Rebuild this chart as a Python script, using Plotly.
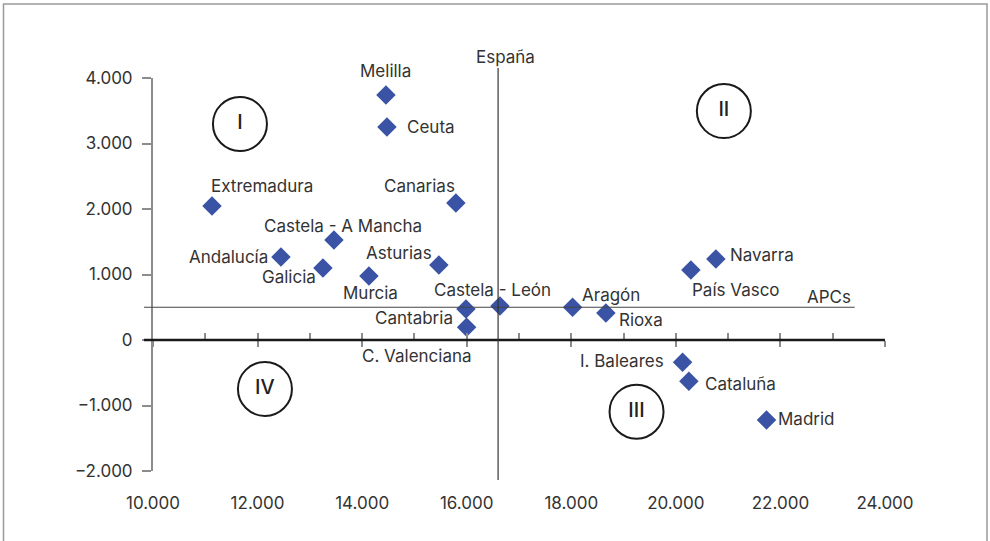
import plotly.graph_objects as go

# ---- data ----
regions = ["Melilla", "Ceuta", "Extremadura", "Canarias", "Castela - A Mancha",
           "Andalucía", "Galicia", "Murcia", "Asturias", "Castela - León",
           "Cantabria", "C. Valenciana", "Aragón", "Rioxa", "País Vasco",
           "Navarra", "I. Baleares", "Cataluña", "Madrid"]
x_vals = [14455, 14474, 11128, 15793, 13461,
          12447, 13250, 14130, 15468, 16635,
          15985, 15998, 18025, 18662, 20287,
          20765, 20128, 20249, 21734]
y_vals = [3740, 3252, 2046, 2092, 1527,
          1267, 1099, 977, 1145, 519,
          473, 194, 499, 412, 1069,
          1237, -340, -631, -1221]

espana_x = 16600
apcs_y = 500
apcs_x_end = 23420

quadrants = ["I", "II", "III", "IV"]
quad_x = [11663, 20918, 19248, 12141]
quad_y = [3298, 3496, -1095, -748]

x_ticks = [10000, 12000, 14000, 16000, 18000, 20000, 22000, 24000]
x_range = [10000, 24000]
y_range = [-2000, 4000]

# label placement: (xanchor, xshift px, yshift px)
label_pos = {
    "Melilla": ("center", 0, 24),
    "Ceuta": ("left", 18, 0),
    "Extremadura": ("left", -3, 20),
    "Canarias": ("right", 1, 17),
    "Castela - A Mancha": ("center", 9, 14),
    "Andalucía": ("right", -11, 0),
    "Galicia": ("right", -5, -9),
    "Murcia": ("center", 2, -17),
    "Asturias": ("right", -5, 12),
    "Castela - León": ("center", -7, 16),
    "Cantabria": ("right", -11, -9),
    "C. Valenciana": ("right", 7, -29),
    "Aragón": ("left", 7, 12),
    "Rioxa": ("left", 11, -7),
    "País Vasco": ("left", -1, -20),
    "Navarra": ("left", 12, 4),
    "I. Baleares": ("right", -17, 1),
    "Cataluña": ("left", 14, -3),
    "Madrid": ("left", 9, 1),
}

FONT = "Inter"
FS = 17
TXT = "#333333"
GRAY = "#8c8c8c"
W, H = 990, 541
ML, MR, MT, MB = 153, 105, 78, 70
PW = W - ML - MR
PH = H - MT - MB

fig = go.Figure()

# quadrant circles
fig.add_trace(go.Scatter(
    x=quad_x, y=quad_y, mode="markers+text", text=quadrants,
    textposition="middle center",
    textfont=dict(family=FONT, size=20, color="#222222", weight=500),
    marker=dict(symbol="circle-open", size=54, color="#1a1a1a",
                line=dict(width=2, color="#1a1a1a")),
    hoverinfo="skip", showlegend=False, cliponaxis=False))

# region points
fig.add_trace(go.Scatter(
    x=x_vals, y=y_vals, mode="markers", text=regions,
    marker=dict(symbol="diamond", size=15, color="#3a53a4"),
    showlegend=False, cliponaxis=False))

# dummy traces for the tick axes at y=0
fig.add_trace(go.Scatter(x=[None], y=[None], xaxis="x2", yaxis="y", showlegend=False))
fig.add_trace(go.Scatter(x=[None], y=[None], xaxis="x3", yaxis="y", showlegend=False))

annotations = []
for name, xv, yv in zip(regions, x_vals, y_vals):
    xa, dx, dy = label_pos[name]
    annotations.append(dict(x=xv, y=yv, xref="x", yref="y", text=name,
                            showarrow=False, xanchor=xa, yanchor="middle",
                            xshift=dx, yshift=dy,
                            font=dict(family=FONT, size=FS, color=TXT)))

annotations.append(dict(x=espana_x, y=1 + 21 / PH, xref="x", yref="paper",
                        text="España", showarrow=False, xanchor="center",
                        yanchor="middle", xshift=7,
                        font=dict(family=FONT, size=FS, color=TXT)))
annotations.append(dict(x=(853 - ML) / PW, y=apcs_y, xref="paper", yref="y",
                        text="APCs", showarrow=False, xanchor="right",
                        yanchor="middle", yshift=10,
                        font=dict(family=FONT, size=FS, color=TXT)))

zero_frac = (0 - y_range[0]) / (y_range[1] - y_range[0])

shapes = [
    # outer frame
    dict(type="rect", xref="paper", yref="paper",
         x0=(3.5 - ML) / PW, x1=(987 - ML) / PW,
         y0=-(MB + 10) / PH, y1=1 + (MT - 4) / PH,
         line=dict(color="#9a9a9a", width=1.5), layer="below"),
    # zero line
    dict(type="line", xref="paper", yref="y", x0=-9 / PW, x1=1, y0=0, y1=0,
         line=dict(color="#1a1a1a", width=2.5)),
    # APCs line
    dict(type="line", xref="paper", yref="y", x0=-9 / PW,
         x1=(apcs_x_end - x_range[0]) / (x_range[1] - x_range[0]),
         y0=apcs_y, y1=apcs_y, line=dict(color="#444444", width=1.2)),
    # España line
    dict(type="line", xref="x", yref="paper", x0=espana_x, x1=espana_x,
         y0=-9 / PH, y1=1 + 10 / PH, line=dict(color="#333333", width=1.2)),
]

fig.update_layout(
    width=W, height=H,
    margin=dict(l=ML, r=MR, t=MT, b=MB),
    paper_bgcolor="white", plot_bgcolor="white",
    separators=",.",
    font=dict(family=FONT, size=FS, color=TXT),
    annotations=annotations, shapes=shapes,
    xaxis=dict(range=x_range, tickvals=x_ticks, tickformat=",d",
               showline=False, ticks="", showgrid=False, zeroline=False,
               ticklabelstandoff=20,
               tickfont=dict(family=FONT, size=FS, color=TXT)),
    xaxis2=dict(range=x_range, overlaying="x", anchor="free", position=zero_frac,
                side="bottom", showline=False, showgrid=False, zeroline=False,
                showticklabels=False, ticks="inside", dtick=1000, tick0=10000,
                ticklen=7, tickwidth=2, tickcolor=GRAY),
    xaxis3=dict(range=x_range, overlaying="x", anchor="free", position=zero_frac,
                side="bottom", showline=False, showgrid=False, zeroline=False,
                showticklabels=False, ticks="outside", dtick=2000, tick0=10000,
                ticklen=6, tickwidth=2, tickcolor=GRAY),
    yaxis=dict(range=y_range, dtick=1000, tickformat=",d",
               showline=True, linecolor=GRAY, linewidth=2,
               ticks="outside", ticklen=9, tickwidth=2, tickcolor=GRAY,
               showgrid=False, zeroline=False, ticklabelstandoff=6,
               tickfont=dict(family=FONT, size=FS, color=TXT)),
)

fig.write_html("out.html", config={"displayModeBar": False}, post_script=(
    "document.body.style.margin='0';"
    "document.documentElement.style.overflow='hidden';"
    "document.body.style.overflow='hidden';"))
